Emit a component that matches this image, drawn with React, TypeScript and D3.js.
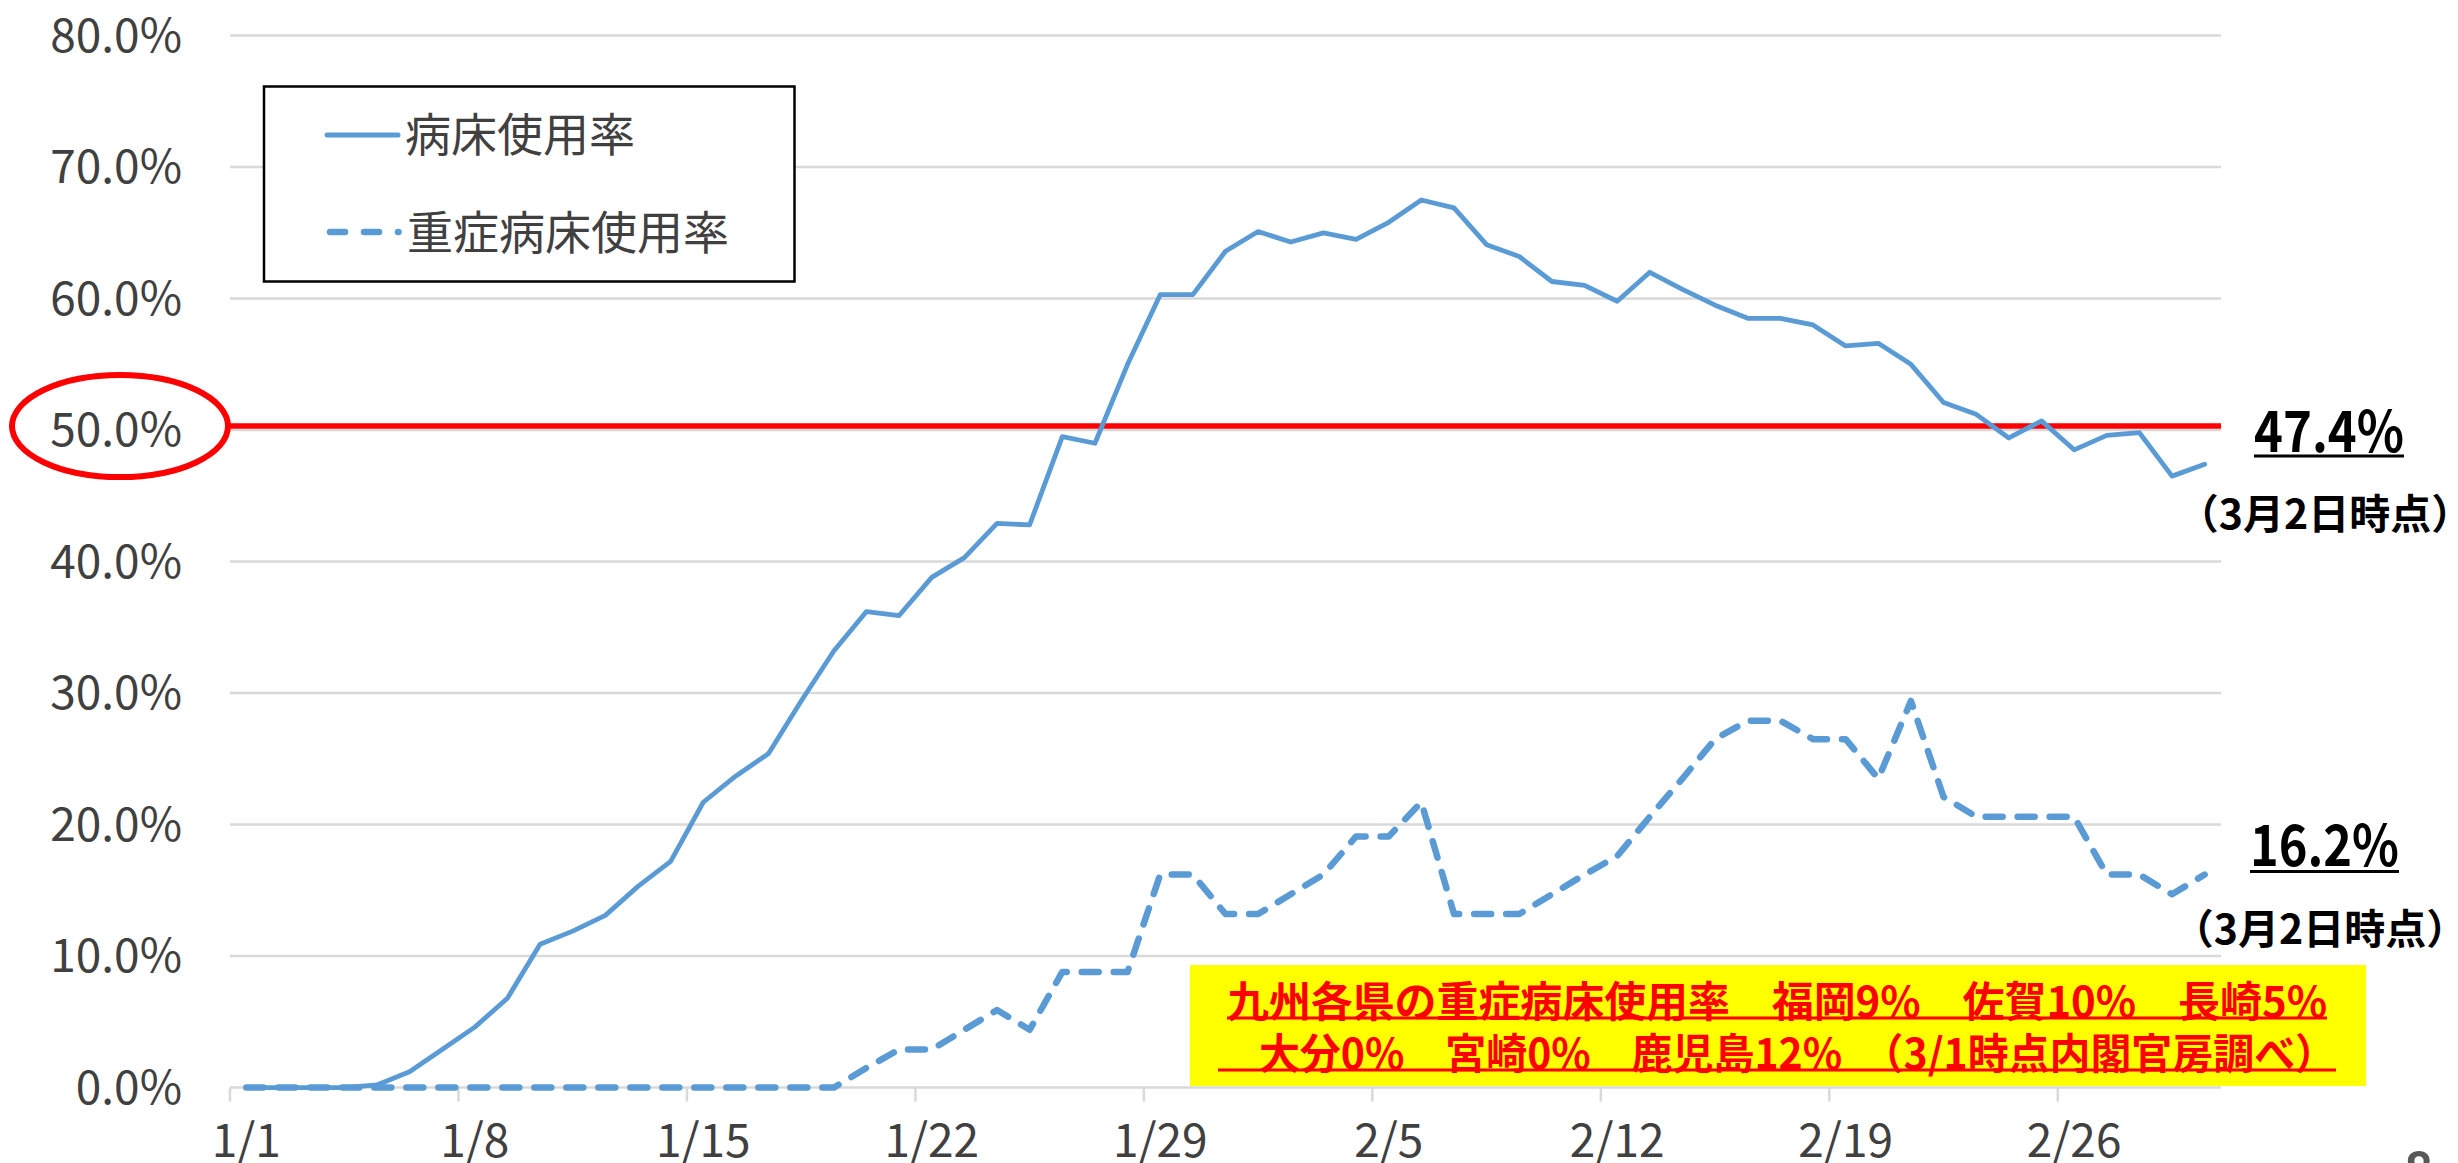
import React from 'react';
import * as d3 from 'd3';

// categories: one per day, 1/1 .. 3/2
const dates = [
  '1/1', '1/2', '1/3', '1/4', '1/5', '1/6', '1/7', '1/8', '1/9', '1/10',
  '1/11', '1/12', '1/13', '1/14', '1/15', '1/16', '1/17', '1/18', '1/19', '1/20',
  '1/21', '1/22', '1/23', '1/24', '1/25', '1/26', '1/27', '1/28', '1/29', '1/30',
  '1/31', '2/1', '2/2', '2/3', '2/4', '2/5', '2/6', '2/7', '2/8', '2/9',
  '2/10', '2/11', '2/12', '2/13', '2/14', '2/15', '2/16', '2/17', '2/18', '2/19',
  '2/20', '2/21', '2/22', '2/23', '2/24', '2/25', '2/26', '2/27', '2/28', '3/1',
  '3/2',
];

// 病床使用率 (%)
const bedRate = [
  0, 0, 0, 0, 0.2, 1.2, 2.9, 4.6, 6.8, 10.9,
  11.9, 13.1, 15.3, 17.2, 21.7, 23.7, 25.4, 29.4, 33.2, 36.2,
  35.9, 38.8, 40.3, 42.9, 42.8, 49.5, 49.0, 55.0, 60.3, 60.3,
  63.6, 65.1, 64.3, 65.0, 64.5, 65.8, 67.5, 66.9, 64.1, 63.2,
  61.3, 61.0, 59.8, 62.0, 60.7, 59.5, 58.5, 58.5, 58.0, 56.4,
  56.6, 55.0, 52.1, 51.2, 49.4, 50.7, 48.5, 49.6, 49.8, 46.5,
  47.4,
];

// 重症病床使用率 (%)
const severeRate = [
  0, 0, 0, 0, 0, 0, 0, 0, 0, 0,
  0, 0, 0, 0, 0, 0, 0, 0, 0, 1.5,
  2.9, 2.9, 4.4, 5.9, 4.4, 8.8, 8.8, 8.8, 16.2, 16.2,
  13.2, 13.2, 14.7, 16.2, 19.1, 19.1, 21.7, 13.2, 13.2, 13.2,
  14.7, 16.2, 17.6, 20.6, 23.5, 26.5, 27.9, 27.9, 26.5, 26.5,
  23.5, 29.4, 22.1, 20.6, 20.6, 20.6, 20.6, 16.2, 16.2, 14.7,
  16.2,
];

const xTickLabels = ['1/1', '1/8', '1/15', '1/22', '1/29', '2/5', '2/12', '2/19', '2/26'];
const yTicks = [0, 10, 20, 30, 40, 50, 60, 70, 80];
const legendLabels = ['病床使用率', '重症病床使用率'];
const asOfLabel = '（3月2日時点）';
const noteLines = [
  '九州各県の重症病床使用率　福岡9%　佐賀10%　長崎5%',
  '　大分0%　宮崎0%　鹿児島12%　（3/1時点内閣官房調べ）',
];
const threshold = 50;
const pageNo = '8';

const W = 2458;
const H = 1163;
const FONT = "'Noto Sans CJK JP', 'Noto Sans', sans-serif";
const BLUE = '#5B9BD5';
const GRID = '#D9D9D9';
const TEXT = '#404040';

// a bold underlined label squeezed to a fixed width (the source font is narrow)
function Underlined(props: {
  x: number; y: number; w: number; size: number; uy: number; color: string; thick: number;
  text: string; central?: boolean;
}) {
  const { x, y, w, size, uy, color, thick, text, central } = props;
  return (
    <g>
      <text
        x={x}
        y={y}
        fontSize={size}
        fontWeight="bold"
        fill={color}
        textLength={w}
        lengthAdjust="spacingAndGlyphs"
        dominantBaseline={central ? 'central' : undefined}
        style={{ whiteSpace: 'pre' }}
      >
        {text}
      </text>
      <line x1={x} x2={x + w} y1={uy} y2={uy} stroke={color} strokeWidth={thick} />
    </g>
  );
}

export default function App() {
  const x = d3.scaleBand<string>().domain(dates).range([230, 2221]);
  const y = d3.scaleLinear().domain([0, 80]).range([1087.6, 35.6]);
  const cx = (d: string) => (x(d) ?? 0) + x.bandwidth() / 2;

  const line = d3
    .line<number>()
    .x((_, i) => cx(dates[i]))
    .y((v) => y(v));

  const fmt = (v: number) => d3.format('.1f')(v) + '%';
  const [x0, x1] = x.range();
  const redY = y(threshold) - 4;

  const lastBed = bedRate[bedRate.length - 1];
  const lastSevere = severeRate[severeRate.length - 1];

  return (
    <svg
      width={W}
      height={H}
      style={{ position: 'absolute', left: 0, top: 0, display: 'block', background: '#fff' }}
      fontFamily={FONT}
    >
      {/* gridlines */}
      {yTicks.map((t) => (
        <line key={t} x1={x0} x2={x1} y1={y(t)} y2={y(t)} stroke={GRID} strokeWidth={2.5} />
      ))}
      {/* x ticks at category boundaries */}
      {xTickLabels.map((d) => (
        <line key={d} x1={x(d)} x2={x(d)} y1={y(0)} y2={y(0) + 14} stroke={GRID} strokeWidth={2.5} />
      ))}

      {/* y labels */}
      {yTicks.map((t) => (
        <text
          key={t}
          x={182}
          y={y(t) - 4}
          textAnchor="end"
          dominantBaseline="central"
          fontSize={46}
          fill={TEXT}
        >
          {fmt(t)}
        </text>
      ))}

      {/* x labels */}
      {xTickLabels.map((d) => (
        <text key={d} x={cx(d)} y={1157} textAnchor="middle" fontSize={46} fill={TEXT}>
          {d}
        </text>
      ))}

      {/* 50% line and circle */}
      <line x1={x0} x2={x1} y1={redY} y2={redY} stroke="#FF0000" strokeWidth={5.5} />
      <ellipse cx={120} cy={redY} rx={108} ry={51} fill="none" stroke="#FF0000" strokeWidth={6} />

      {/* series */}
      <path
        d={line(severeRate) ?? ''}
        fill="none"
        stroke={BLUE}
        strokeWidth={6.5}
        strokeDasharray="17,15"
        strokeLinecap="round"
        strokeLinejoin="round"
      />
      <path
        d={line(bedRate) ?? ''}
        fill="none"
        stroke={BLUE}
        strokeWidth={4.8}
        strokeLinejoin="round"
        strokeLinecap="round"
      />

      {/* legend */}
      <rect x={264} y={86.5} width={530.5} height={195} fill="#fff" stroke="#000" strokeWidth={2.5} />
      <line x1={327} x2={398} y1={135} y2={135} stroke={BLUE} strokeWidth={5} strokeLinecap="round" />
      <text x={405} y={131} dominantBaseline="central" fontSize={46} fill={TEXT}>
        {legendLabels[0]}
      </text>
      <line
        x1={330}
        x2={398.5}
        y1={232}
        y2={232}
        stroke={BLUE}
        strokeWidth={6.5}
        strokeDasharray="15,19"
        strokeLinecap="round"
      />
      <text x={407} y={229} dominantBaseline="central" fontSize={46} fill={TEXT}>
        {legendLabels[1]}
      </text>

      {/* latest values */}
      <Underlined x={2254} y={452} w={150} size={57} uy={456} color="#000" thick={3} text={fmt(lastBed)} />
      <text x={2325} y={511} textAnchor="middle" dominantBaseline="central" fontSize={41} fontWeight="bold" fill="#000">
        {asOfLabel}
      </text>
      <Underlined x={2250} y={866} w={149} size={57} uy={871.5} color="#000" thick={3} text={fmt(lastSevere)} />
      <text x={2320} y={926} textAnchor="middle" dominantBaseline="central" fontSize={41} fontWeight="bold" fill="#000">
        {asOfLabel}
      </text>

      {/* note box */}
      <rect x={1190} y={965} width={1176} height={121} fill="#FFFF00" />
      <Underlined x={1227} y={998} w={1100} size={42} uy={1018} color="#FF0000" thick={3} text={noteLines[0]} central />
      <Underlined x={1218} y={1050} w={1118} size={42} uy={1070} color="#FF0000" thick={3} text={noteLines[1]} central />

      {/* page number, cut off at the bottom */}
      <text x={2404} y={1188} fontSize={50} fontWeight="bold" fill="#595959">
        {pageNo}
      </text>
    </svg>
  );
}
